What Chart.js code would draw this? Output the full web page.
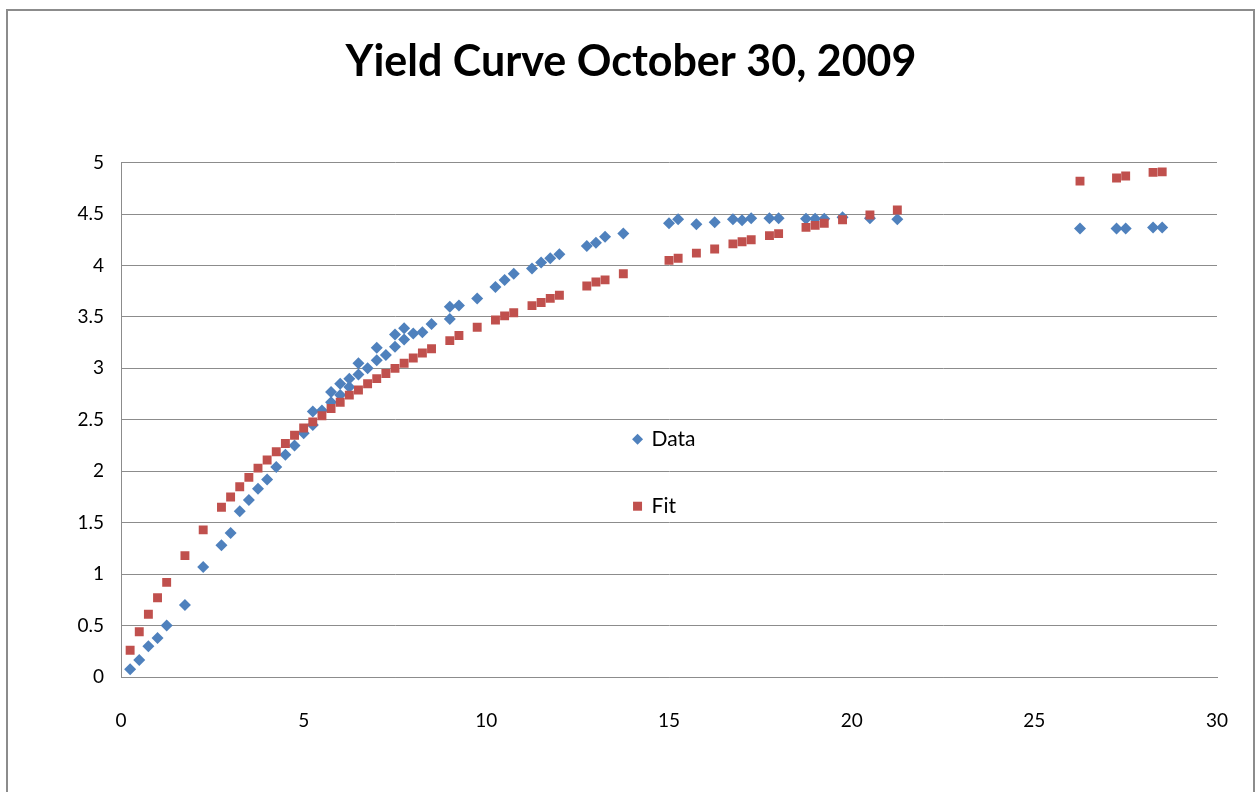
<!DOCTYPE html>
<html>
<head>
<meta charset="utf-8">
<script src="https://cdn.jsdelivr.net/npm/chart.js@4.4.1/dist/chart.umd.min.js"></script>
<style>
  html, body { margin: 0; padding: 0; background: #ffffff; }
  #wrap { width: 1256px; height: 792px; position: relative; }
</style>
</head>
<body>
<div id="wrap"><canvas id="c" width="1256" height="792"></canvas></div>
<script>
const titleText = "Yield Curve October 30, 2009";
const seriesNames = ["Data", "Fit"];

const dataX = [0.25,0.5,0.75,1.0,1.25,1.75,2.25,2.75,3.0,3.25,3.5,3.75,4.0,4.25,4.5,4.75,5.0,5.25,5.25,5.5,5.75,5.75,6.0,6.0,6.25,6.25,6.5,6.5,6.75,7.0,7.0,7.25,7.5,7.5,7.75,7.75,8.0,8.25,8.5,9.0,9.0,9.25,9.75,10.25,10.5,10.75,11.25,11.5,11.75,12.0,12.75,13.0,13.25,13.75,15.0,15.25,15.75,16.25,16.75,17.0,17.25,17.75,18.0,18.75,19.0,19.25,19.75,20.5,21.25,26.25,27.25,27.5,28.25,28.5];
const dataY = [0.075,0.165,0.30,0.38,0.50,0.70,1.07,1.28,1.40,1.61,1.72,1.83,1.92,2.04,2.16,2.25,2.37,2.45,2.58,2.59,2.67,2.77,2.74,2.85,2.82,2.90,2.94,3.05,3.00,3.08,3.20,3.13,3.21,3.33,3.28,3.39,3.34,3.35,3.43,3.48,3.60,3.61,3.68,3.79,3.86,3.92,3.97,4.03,4.07,4.11,4.19,4.22,4.28,4.31,4.41,4.45,4.40,4.42,4.45,4.44,4.46,4.46,4.46,4.455,4.455,4.455,4.47,4.46,4.45,4.36,4.36,4.36,4.37,4.37];

const fitX = [0.25,0.5,0.75,1.0,1.25,1.75,2.25,2.75,3.0,3.25,3.5,3.75,4.0,4.25,4.5,4.75,5.0,5.25,5.5,5.75,6.0,6.25,6.5,6.75,7.0,7.25,7.5,7.75,8.0,8.25,8.5,9.0,9.25,9.75,10.25,10.5,10.75,11.25,11.5,11.75,12.0,12.75,13.0,13.25,13.75,15.0,15.25,15.75,16.25,16.75,17.0,17.25,17.75,18.0,18.75,19.0,19.25,19.75,20.5,21.25,26.25,27.25,27.5,28.25,28.5];
const fitY = [0.26,0.44,0.61,0.77,0.92,1.18,1.43,1.65,1.75,1.85,1.94,2.03,2.11,2.19,2.27,2.35,2.42,2.48,2.54,2.61,2.67,2.74,2.79,2.85,2.90,2.95,3.00,3.05,3.10,3.15,3.19,3.27,3.32,3.40,3.47,3.51,3.54,3.61,3.64,3.68,3.71,3.80,3.84,3.86,3.92,4.05,4.07,4.12,4.16,4.21,4.23,4.25,4.29,4.31,4.37,4.39,4.41,4.445,4.49,4.54,4.82,4.85,4.87,4.905,4.91];

const xTicks = [0, 5, 10, 15, 20, 25, 30];
const yTicks = [0, 0.5, 1, 1.5, 2, 2.5, 3, 3.5, 4, 4.5, 5];

const BLUE = "#4F81BD";
const RED = "#C0504D";
const FONT = "Lato, 'Open Sans', sans-serif";

const toPoints = (xs, ys) => xs.map((x, i) => ({ x: x, y: ys[i] }));

const frame = {
  id: "frame",
  beforeDraw(chart) {
    const ctx = chart.ctx;
    ctx.save();
    ctx.fillStyle = "#ffffff";
    ctx.fillRect(0, 0, chart.width, chart.height);
    ctx.strokeStyle = "#8c8c8c";
    ctx.lineWidth = 2;
    ctx.strokeRect(7, 10, chart.width - 9, chart.height + 20);
    ctx.restore();
  }
};

const innerLegend = {
  id: "innerLegend",
  afterDraw(chart) {
    const ctx = chart.ctx;
    const a = chart.chartArea;
    const mx = a.left + (a.right - a.left) * 0.4713;
    const rows = [a.top + (a.bottom - a.top) * 0.538, a.top + (a.bottom - a.top) * 0.668];
    ctx.save();
    ctx.font = "21px " + FONT;
    ctx.textBaseline = "middle";
    chart.data.datasets.forEach((ds, i) => {
      const y = rows[i];
      ctx.fillStyle = ds.backgroundColor;
      ctx.beginPath();
      if (ds.pointStyle === "rectRot") {
        ctx.moveTo(mx, y - 5.5);
        ctx.lineTo(mx + 5.5, y);
        ctx.lineTo(mx, y + 5.5);
        ctx.lineTo(mx - 5.5, y);
        ctx.closePath();
      } else {
        ctx.rect(mx - 4.5, y - 4.5, 9, 9);
      }
      ctx.fill();
      ctx.fillStyle = "#000000";
      ctx.fillText(ds.label, mx + 14, y);
    });
    ctx.restore();
  }
};

new Chart(document.getElementById("c"), {
  type: "scatter",
  data: {
    datasets: [
      {
        label: seriesNames[0],
        data: toPoints(dataX, dataY),
        pointStyle: "rectRot",
        pointRadius: 6,
        pointHoverRadius: 6,
        backgroundColor: BLUE,
        borderColor: BLUE,
        borderWidth: 0,
        order: 1
      },
      {
        label: seriesNames[1],
        data: toPoints(fitX, fitY),
        pointStyle: "rect",
        pointRadius: 6.3,
        pointHoverRadius: 6.3,
        backgroundColor: RED,
        borderColor: RED,
        borderWidth: 0,
        order: 0
      }
    ]
  },
  plugins: [frame, innerLegend],
  options: {
    responsive: false,
    animation: false,
    devicePixelRatio: 1,
    layout: { padding: { left: 45, right: 39, top: 0, bottom: 0 } },
    plugins: {
      legend: { display: false },
      tooltip: { enabled: false },
      title: {
        display: true,
        text: titleText,
        color: "#000000",
        font: { family: FONT, size: 43, weight: "bold", lineHeight: 1.2 },
        padding: { top: 36, bottom: 75 }
      }
    },
    scales: {
      x: {
        type: "linear",
        min: 0,
        max: 30,
        afterBuildTicks(scale) { scale.ticks = xTicks.map(v => ({ value: v })); },
        afterFit(scale) { scale.height = 115; scale.paddingLeft = 0; scale.paddingRight = 0; },
        grid: { display: false, drawTicks: false },
        border: { display: true, color: "#8c8c8c", width: 1 },
        ticks: {
          color: "#000000",
          padding: 32,
          font: { family: FONT, size: 19 },
          maxRotation: 0,
          callback: v => String(v)
        }
      },
      y: {
        type: "linear",
        min: 0,
        max: 5,
        afterBuildTicks(scale) { scale.ticks = yTicks.map(v => ({ value: v })); },
        afterFit(scale) { scale.width = 76; },
        grid: { display: true, color: "#8c8c8c", lineWidth: 1, drawTicks: false },
        border: { display: true, color: "#8c8c8c", width: 1 },
        ticks: {
          color: "#000000",
          padding: 17,
          font: { family: FONT, size: 19 },
          callback: v => String(v)
        }
      }
    }
  }
});
</script>
</body>
</html>
